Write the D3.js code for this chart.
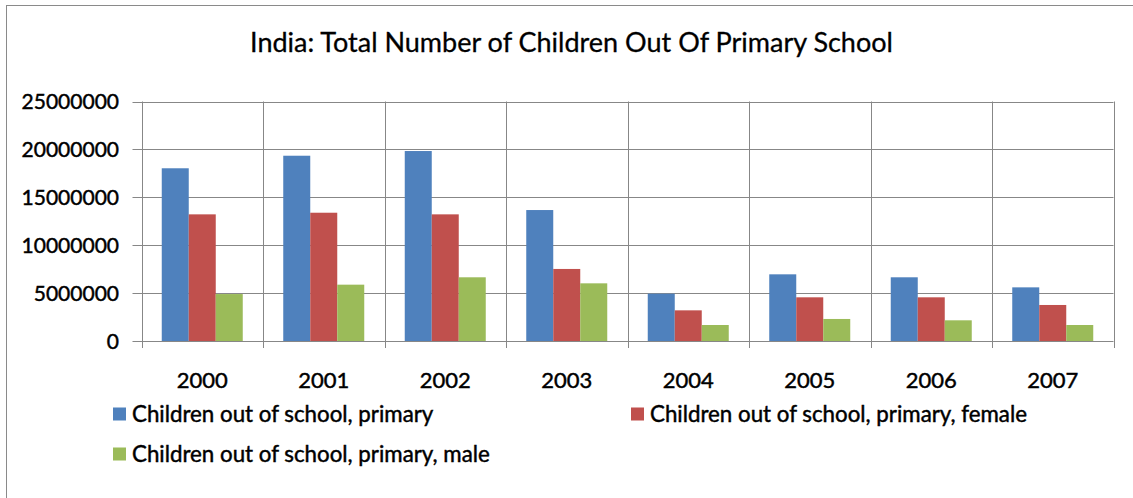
<!DOCTYPE html>
<html>
<head>
<meta charset="utf-8">
<script src="https://cdn.jsdelivr.net/npm/d3@7"></script>
<style>
  html, body { margin: 0; padding: 0; background: #fff; }
  svg { display: block; }
  text { font-family: Lato, "Open Sans", sans-serif; fill: #000; }
</style>
</head>
<body>
<svg id="chart" width="1133" height="498"></svg>
<script>
// Out-of-school primary-age children in India, by year
const years = ["2000", "2001", "2002", "2003", "2004", "2005", "2006", "2007"];
const seriesNames = [
  "Children out of school, primary",
  "Children out of school, primary, female",
  "Children out of school, primary, male"
];
const totalValues  = [18030000, 19340000, 19830000, 13670000, 4940000, 6960000, 6650000, 5600000];
const femaleValues = [13220000, 13390000, 13220000, 7520000, 3200000, 4560000, 4560000, 3760000];
const maleValues   = [4900000, 5880000, 6650000, 6020000, 1670000, 2300000, 2160000, 1670000];
const yTicks = [0, 5000000, 10000000, 15000000, 20000000, 25000000];
const colors = ["#4F81BD", "#C0504D", "#9BBB59"];

const seriesValues = [totalValues, femaleValues, maleValues];

const svg = d3.select("#chart");
const W = 1133, H = 498;
const plot = { left: 141.5, right: 1113.5, top: 101.5, bottom: 341 };

// chart frame
svg.append("rect")
  .attr("x", 6.5).attr("y", 5.5)
  .attr("width", W + 10).attr("height", H + 10)
  .attr("fill", "#fff").attr("stroke", "#8a8a8a").attr("stroke-width", 1);

svg.append("text")
  .attr("x", (250 + 893) / 2).attr("y", 52)
  .attr("text-anchor", "middle")
  .style("font-size", "27px")
  .style("stroke", "#000").style("stroke-width", "0.3px")
  .text("India: Total Number of Children Out Of Primary School");

const x = d3.scaleBand().domain(years).range([plot.left, plot.right]).paddingInner(0).paddingOuter(0);
// bars are 1/4.5 of a category, leaving a 150% gap split on both sides
const barW = x.bandwidth() / 4.5;
const xs = d3.scaleBand().domain(d3.range(3)).range([0.75 * barW, 3.75 * barW]);
const y = d3.scaleLinear().domain([0, 25000000]).range([plot.bottom, plot.top]);

const grid = "#878787";

// horizontal gridlines
svg.append("g").selectAll("line").data(yTicks).join("line")
  .attr("x1", plot.left - 9).attr("x2", plot.right)
  .attr("y1", d => Math.round(y(d)) + 0.5).attr("y2", d => Math.round(y(d)) + 0.5)
  .attr("stroke", grid).attr("stroke-width", 1);

// vertical category dividers
const bounds = years.map(d => x(d)).concat([plot.right]);
svg.append("g").selectAll("line").data(bounds).join("line")
  .attr("x1", d => Math.round(d) + 0.5).attr("x2", d => Math.round(d) + 0.5)
  .attr("y1", plot.top).attr("y2", plot.bottom + 7)
  .attr("stroke", grid).attr("stroke-width", 1);

// bars
const barsG = svg.append("g");
seriesValues.forEach((vals, si) => {
  barsG.append("g").selectAll("rect").data(vals).join("rect")
    .attr("x", (d, i) => x(years[i]) + xs(si))
    .attr("width", xs.bandwidth())
    .attr("y", d => y(d))
    .attr("height", d => y(0) - y(d))
    .attr("fill", colors[si]);
});

const labelStyle = sel => sel
  .style("font-size", "21px").style("font-weight", "400")
  .style("stroke", "#000").style("stroke-width", "0.45px");

// y axis labels
svg.append("g").selectAll("text").data(yTicks).join("text")
  .attr("x", 119).attr("y", d => y(d))
  .attr("dy", "0.36em")
  .attr("text-anchor", "end")
  .call(labelStyle)
  .text(d => d3.format("d")(d));

// x axis labels
svg.append("g").selectAll("text").data(years).join("text")
  .attr("x", d => x(d) + x.bandwidth() / 2).attr("y", 380)
  .attr("dy", "0.36em")
  .attr("text-anchor", "middle")
  .call(labelStyle)
  .style("font-size", "22px")
  .text(d => d);

// legend
const legendPos = [[113, 414], [631, 414], [113, 454]];
const lg = svg.append("g");
seriesNames.forEach((name, i) => {
  const [lx, ly] = legendPos[i];
  lg.append("rect").attr("x", lx).attr("y", ly - 6.5).attr("width", 13).attr("height", 13).attr("fill", colors[i]);
  lg.append("text").attr("x", lx + 19).attr("y", ly).attr("dy", "0.36em")
    .call(labelStyle)
    .style("font-size", "22.3px")
    .text(name);
});
</script>
</body>
</html>
